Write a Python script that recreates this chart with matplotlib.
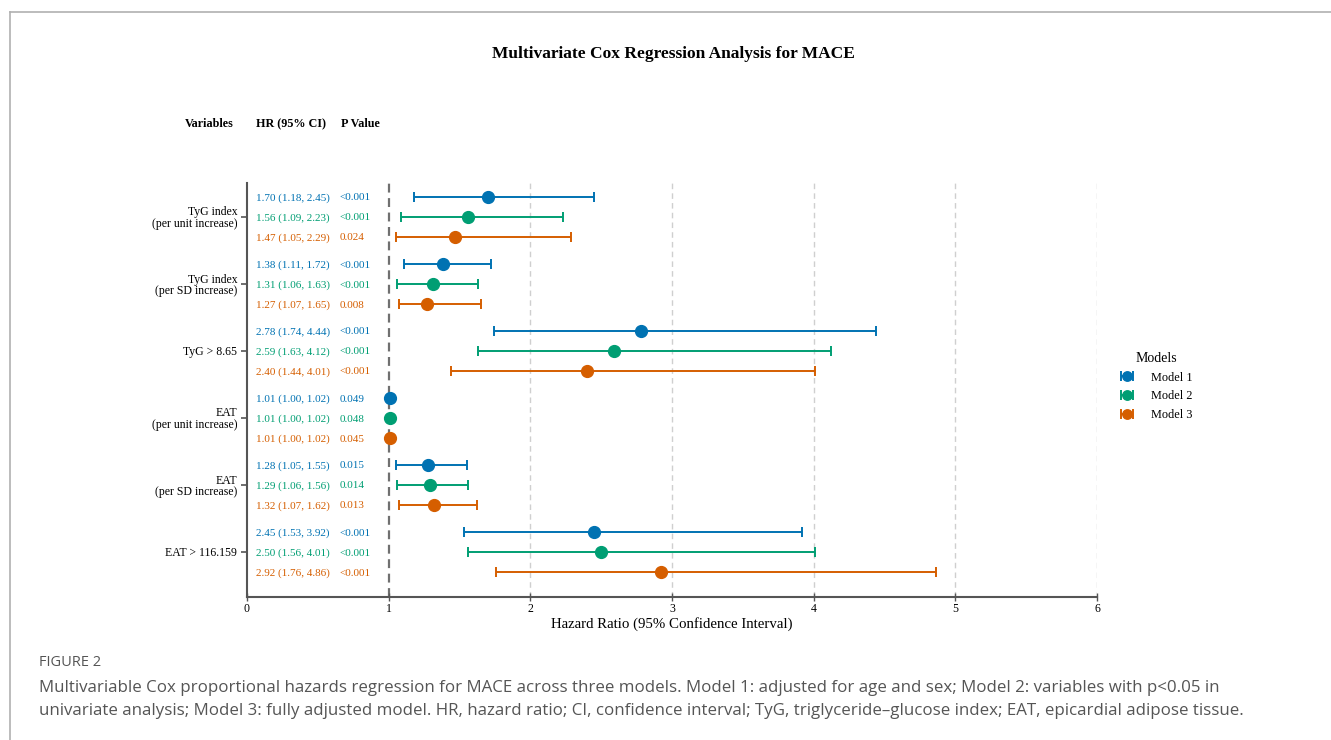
import matplotlib
matplotlib.use("Agg")
import matplotlib.pyplot as plt
from matplotlib.lines import Line2D

plt.rcParams['font.family'] = ['Liberation Serif', 'DejaVu Serif']

variables = ["TyG index\n(per unit increase)", "TyG index\n(per SD increase)", "TyG > 8.65",
             "EAT\n(per unit increase)", "EAT\n(per SD increase)", "EAT > 116.159"]
models = ["Model 1", "Model 2", "Model 3"]
colors = ["#0072B2", "#009E73", "#D55E00"]

# hr[variable][model]
hr = [[1.70, 1.56, 1.47], [1.38, 1.31, 1.27], [2.78, 2.59, 2.40],
      [1.01, 1.01, 1.01], [1.28, 1.29, 1.32], [2.45, 2.50, 2.92]]
lower = [[1.18, 1.09, 1.05], [1.11, 1.06, 1.07], [1.74, 1.63, 1.44],
         [1.00, 1.00, 1.00], [1.05, 1.06, 1.07], [1.53, 1.56, 1.76]]
upper = [[2.45, 2.23, 2.29], [1.72, 1.63, 1.65], [4.44, 4.12, 4.01],
         [1.02, 1.02, 1.02], [1.55, 1.56, 1.62], [3.92, 4.01, 4.86]]
pvals = [["<0.001", "<0.001", "0.024"], ["<0.001", "<0.001", "0.008"],
         ["<0.001", "<0.001", "<0.001"], ["0.049", "0.048", "0.045"],
         ["0.015", "0.014", "0.013"], ["<0.001", "<0.001", "<0.001"]]
xticks = [0, 1, 2, 3, 4, 5, 6]

W, H = 1331, 740
fig = plt.figure(figsize=(W / 100, H / 100), dpi=100)

# page frame
fig.add_artist(Line2D([10 / W, 1], [1 - 12 / H, 1 - 12 / H], transform=fig.transFigure,
                      color="#b0b0b0", lw=1.2))
fig.add_artist(Line2D([10 / W, 10 / W], [1 - 12 / H, 0], transform=fig.transFigure,
                      color="#b0b0b0", lw=1.2))

ax = fig.add_axes([247 / W, 1 - 597 / H, (1097 - 247) / W, (597 - 183) / H])

group_step = 3.35
centers = []
legend_handles = []
for g in range(len(variables)):
    c = -g * group_step
    centers.append(c)
    for m in range(3):
        y = c + 1 - m
        h, lo, up = hr[g][m], lower[g][m], upper[g][m]
        cont = ax.errorbar(h, y, xerr=[[h - lo], [up - h]], fmt='o', color=colors[m],
                           ecolor=colors[m], elinewidth=1.4, capsize=3.8, capthick=1.4,
                           markersize=8.5, zorder=3)
        if g == 0:
            legend_handles.append(cont)
        ax.text(0.064, y, f"{h:.2f} ({lo:.2f}, {up:.2f})", color=colors[m],
                fontsize=8, va='center_baseline', ha='left')
        ax.text(0.656, y, pvals[g][m], color=colors[m], fontsize=8,
                va='center_baseline', ha='left')

ax.set_xlim(0, 6)
ax.set_ylim(-19.0, 1.7)
ax.set_xticks(xticks)
ax.set_xticklabels([str(t) for t in xticks], fontsize=8.5)
ax.set_yticks(centers)
ax.set_yticklabels(variables, fontsize=8.5, linespacing=0.95)

for x in xticks[2:]:
    ax.axvline(x, color="#cfcfcf", lw=1.0, ls=(0, (4, 3)), zorder=0)
ax.axvline(1, color="#707070", lw=1.6, ls=(0, (4, 2.5)), zorder=1)

for s in ["top", "right"]:
    ax.spines[s].set_visible(False)
for s in ["left", "bottom"]:
    ax.spines[s].set_color("#555555")
    ax.spines[s].set_linewidth(1.5)
ax.tick_params(axis='y', direction='out', length=4, width=1.2, color="#555555", pad=3)
ax.tick_params(axis='x', direction='inout', length=6, width=1.0, color="#555555", pad=1)

ax.set_xlabel("Hazard Ratio (95% Confidence Interval)", fontsize=10.7, labelpad=2)

# headers
fig.text(673 / W, 1 - 54 / H, "Multivariate Cox Regression Analysis for MACE",
         fontsize=12.5, fontweight='bold', ha='center', va='center')
fig.text(209 / W, 1 - 124 / H, "Variables", fontsize=8.7, fontweight='bold', ha='center', va='center')
fig.text(291 / W, 1 - 124 / H, "HR (95% CI)", fontsize=8.7, fontweight='bold', ha='center', va='center')
fig.text(360 / W, 1 - 124 / H, "P Value", fontsize=8.7, fontweight='bold', ha='center', va='center')

leg = fig.legend(legend_handles, models, title="Models", loc='upper left',
                 bbox_to_anchor=(1109 / W, 1 - 341 / H), frameon=False,
                 fontsize=8.8, title_fontsize=10, handlelength=1.2, labelspacing=0.55,
                 handletextpad=1.3, markerscale=0.8)

# caption
cap_font = ['Open Sans', 'DejaVu Sans']
fig.text(39 / W, 1 - 662 / H, "FIGURE 2", fontsize=10.5, color="#555555",
         family=cap_font, va='center', ha='left')
fig.text(39 / W, 1 - 688 / H,
         "Multivariable Cox proportional hazards regression for MACE across three models. Model 1: adjusted for age and sex; Model 2: variables with p<0.05 in",
         fontsize=12.2, color="#555555", family=cap_font, va='center', ha='left')
fig.text(39 / W, 1 - 711 / H,
         "univariate analysis; Model 3: fully adjusted model. HR, hazard ratio; CI, confidence interval; TyG, triglyceride\u2013glucose index; EAT, epicardial adipose tissue.",
         fontsize=12.2, color="#555555", family=cap_font, va='center', ha='left')

fig.savefig("out.png", dpi=100)
